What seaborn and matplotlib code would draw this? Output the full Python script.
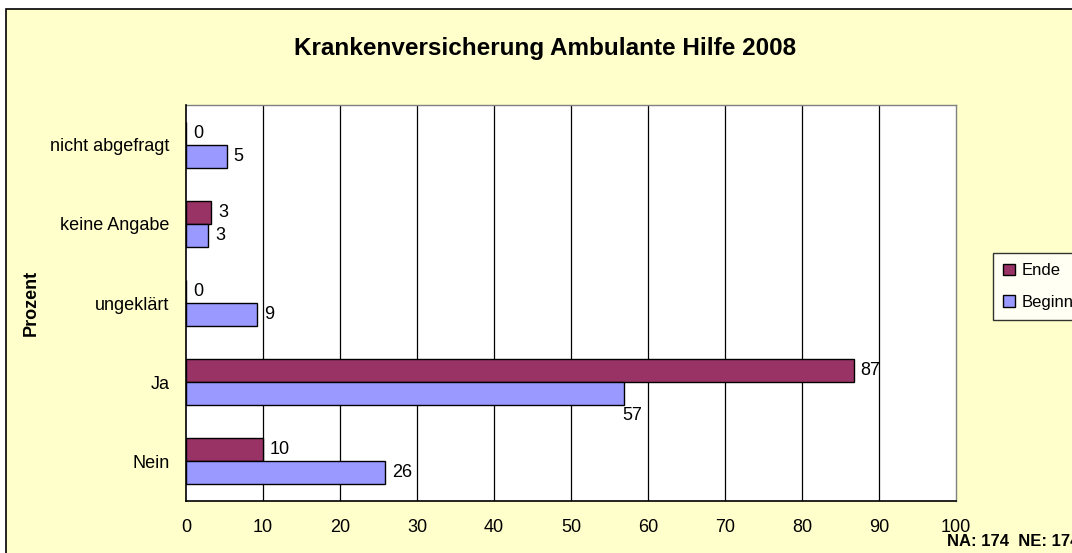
import pandas as pd
import seaborn as sns
import matplotlib.pyplot as plt
from matplotlib.patches import Patch, Rectangle

# Werte
kategorien = ["nicht abgefragt", "keine Angabe", "ungeklärt", "Ja", "Nein"]
ende = [0.0, 3.3, 0.0, 86.7, 10.0]
beginn = [5.3, 2.9, 9.2, 56.9, 25.9]
xticks = [0, 10, 20, 30, 40, 50, 60, 70, 80, 90, 100]

df = pd.DataFrame({
    "Kategorie": kategorien * 2,
    "Prozent": ende + beginn,
    "Zeitpunkt": ["Ende"] * len(kategorien) + ["Beginn"] * len(kategorien),
})

farben = {"Ende": "#993366", "Beginn": "#9999FF"}
bg = "#FFFFCC"

sns.set_style("white")
plt.rcParams["font.family"] = ["Liberation Sans", "DejaVu Sans"]
plt.rcParams["text.color"] = "black"
plt.rcParams["xtick.color"] = "black"
plt.rcParams["ytick.color"] = "black"

fig = plt.figure(figsize=(10.72, 5.53), dpi=100, facecolor="white")
# Diagrammfläche mit Rahmen
fig.patches.append(Rectangle((6 / 1072, -0.01), 1.0, 1.01 - 9 / 553,
                             transform=fig.transFigure, facecolor=bg,
                             edgecolor="black", linewidth=1.2, zorder=-10))

ax = fig.add_axes([186 / 1072, 52 / 553, 770 / 1072, 396 / 553])
ax.set_facecolor("white")

sns.barplot(data=df, y="Kategorie", x="Prozent", hue="Zeitpunkt",
            order=kategorien, hue_order=["Ende", "Beginn"], palette=farben,
            saturation=1, orient="h", width=0.58, edgecolor="black",
            linewidth=1, legend=False, ax=ax, zorder=3)

ax.set_xlim(0, 100)
ax.set_ylim(len(kategorien) - 0.5, -0.5)
ax.set_xticks(xticks)
ax.set_xticklabels([str(t) for t in xticks], fontsize=13)
ax.tick_params(axis="x", direction="out", length=5, width=1, color="black", pad=8)
ax.tick_params(axis="y", which="major", length=0, labelsize=13, pad=12)
ax.set_yticks([i + 0.5 for i in range(-1, len(kategorien))], minor=True)
ax.tick_params(axis="y", which="minor", direction="out", length=5, width=1, color="black")

for x in xticks[1:-1]:
    ax.axvline(x, color="black", linewidth=0.9, zorder=1)

for side in ["left", "bottom"]:
    ax.spines[side].set_color("black")
    ax.spines[side].set_linewidth(1.2)
    ax.spines[side].set_zorder(4)
for side in ["top", "right"]:
    ax.spines[side].set_color("#808080")
    ax.spines[side].set_linewidth(1)

ax.set_xlabel("")
ax.set_ylabel("")

# Datenbeschriftungen
werte = {"Ende": ende, "Beginn": beginn}
for cont, name in zip(ax.containers, ["Ende", "Beginn"]):
    for i, bar in enumerate(cont):
        v = werte[name][i]
        yc = bar.get_y() + bar.get_height() / 2
        if name == "Beginn" and kategorien[i] == "Ja":
            ax.annotate(f"{v:.0f}", (v, bar.get_y() + bar.get_height()),
                        xytext=(-1, -1), textcoords="offset points",
                        ha="left", va="top", fontsize=13, zorder=5)
        else:
            ax.annotate(f"{v:.0f}", (v, yc), xytext=(5, 0),
                        textcoords="offset points", ha="left", va="center",
                        fontsize=13, zorder=5)

fig.text(545 / 1072, 1 - 48 / 553, "Krankenversicherung Ambulante Hilfe 2008",
         ha="center", va="center", fontsize=17.5, fontweight="bold")
fig.text(31 / 1072, 1 - 303 / 553, "Prozent", rotation=90, ha="center",
         va="center", fontsize=13, fontweight="bold")
fig.text(947 / 1072, 1 - 541 / 553, "NA: 174  NE: 174", ha="left",
         va="center", fontsize=12, fontweight="bold")

handles = [Patch(facecolor=farben[k], edgecolor="black", label=k) for k in ["Ende", "Beginn"]]
leg = fig.legend(handles=handles, loc="upper left",
                 bbox_to_anchor=(985 / 1072, 1 - 245 / 553), frameon=True,
                 fancybox=False, edgecolor="black", facecolor="white",
                 fontsize=12, handlelength=0.7, handleheight=0.7,
                 handletextpad=0.4, borderpad=0.6, labelspacing=1.0)
leg.get_frame().set_linewidth(1)

fig.savefig("out.png", dpi=100, facecolor=fig.get_facecolor())
